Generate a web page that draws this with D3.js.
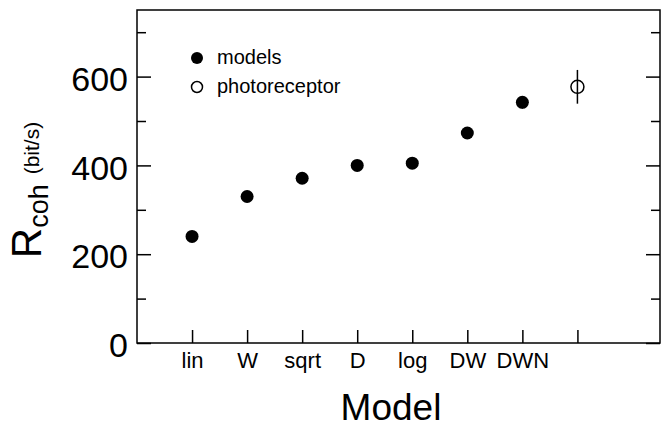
<!DOCTYPE html>
<html><head><meta charset="utf-8">
<script src="https://cdn.jsdelivr.net/npm/d3@7/dist/d3.min.js"></script>
<style>
body{margin:0;background:#fff;}
svg{display:block;font-family:"Liberation Sans",Arial,sans-serif;}
</style></head>
<body><svg id="c" width="667" height="427"></svg>
<script>
const categories = ["lin","W","sqrt","D","log","DW","DWN",""];
const modelValues = [240,330,371,400,405,473,542];
const modelErrors = [0,0,0,0,0,0,14];
const photoValue = [577];
const photoError = [38];
const yMajorTicks = [0,200,400,600];
const yMinorTicks = [100,300,500,700];
const legendItems = ["models","photoreceptor"];

const svg = d3.select("#c");
const L=137,R=660,T=10,B=343;
const x = d3.scaleLinear().domain([0,9.5]).range([L,R]);
const y = d3.scaleLinear().domain([0,750]).range([B,T]);
const xPos = i => x(i+1);

function styleAxis(g){
  g.select(".domain").remove();
  g.selectAll(".tick line").attr("stroke","#000").attr("stroke-width",1.5);
  g.selectAll("text").attr("fill","#000");
}
// x axis
svg.append("g").attr("transform",`translate(0,${B})`)
  .call(d3.axisBottom(x).tickValues(d3.range(1,9)).tickSize(-13).tickPadding(9)
    .tickFormat((d,i)=>categories[i]))
  .call(styleAxis)
  .call(g=>g.selectAll("text").attr("font-size",22));
// y left major
svg.append("g").attr("transform",`translate(${L},0)`)
  .call(d3.axisLeft(y).tickValues(yMajorTicks).tickSize(-14).tickPadding(9))
  .call(styleAxis)
  .call(g=>g.selectAll("text").attr("font-size",34).attr("dy","0.40em"));
svg.append("g").attr("transform",`translate(${L},0)`)
  .call(d3.axisLeft(y).tickValues(yMinorTicks).tickSize(-9).tickFormat(""))
  .call(styleAxis);
// y right
svg.append("g").attr("transform",`translate(${R},0)`)
  .call(d3.axisRight(y).tickValues(yMajorTicks).tickSize(-14).tickFormat(""))
  .call(styleAxis);
svg.append("g").attr("transform",`translate(${R},0)`)
  .call(d3.axisRight(y).tickValues(yMinorTicks).tickSize(-9).tickFormat(""))
  .call(styleAxis);
// frame
svg.append("rect").attr("x",L).attr("y",T).attr("width",R-L).attr("height",B-T)
  .attr("fill","none").attr("stroke","#000").attr("stroke-width",1.5);

// model points
svg.append("g").selectAll("line").data(modelValues).join("line")
  .attr("x1",(d,i)=>xPos(i)).attr("x2",(d,i)=>xPos(i))
  .attr("y1",(d,i)=>y(d+modelErrors[i])).attr("y2",(d,i)=>y(d-modelErrors[i]))
  .attr("stroke","#000").attr("stroke-width",1.5);
svg.append("g").selectAll("circle").data(modelValues).join("circle")
  .attr("cx",(d,i)=>xPos(i)).attr("cy",d=>y(d)).attr("r",6.5).attr("fill","#000");
// photoreceptor
svg.append("g").selectAll("line").data(photoValue).join("line")
  .attr("x1",xPos(7)).attr("x2",xPos(7))
  .attr("y1",(d,i)=>y(d+photoError[i])).attr("y2",(d,i)=>y(d-photoError[i]))
  .attr("stroke","#000").attr("stroke-width",1.5);
svg.append("g").selectAll("circle").data(photoValue).join("circle")
  .attr("cx",xPos(7)).attr("cy",d=>y(d)).attr("r",6.5)
  .attr("fill","none").attr("stroke","#000").attr("stroke-width",1.5);

// legend
const lg = svg.append("g");
legendItems.forEach((t,i)=>{
  const cy = 58 + i*29;
  lg.append("circle").attr("cx",197).attr("cy",cy).attr("r",i===0?6:5.5)
    .attr("fill",i===0?"#000":"none").attr("stroke","#000").attr("stroke-width",i===0?0:1.5);
  lg.append("text").attr("x",217).attr("y",cy+6).attr("font-size",20).text(t);
});

// axis titles
svg.append("text").attr("x",391).attr("y",420).attr("text-anchor","middle")
  .attr("font-size",37).text("Model");
const yt = svg.append("text").attr("transform","translate(41,190) rotate(-90)")
  .attr("text-anchor","middle");
yt.append("tspan").attr("font-size",42).text("R");
yt.append("tspan").attr("font-size",27).attr("dy","0.25em").text("coh");
yt.append("tspan").attr("font-size",21).attr("dy","-0.4em").attr("dx","10").text("(bit/s)");
</script></body></html>
